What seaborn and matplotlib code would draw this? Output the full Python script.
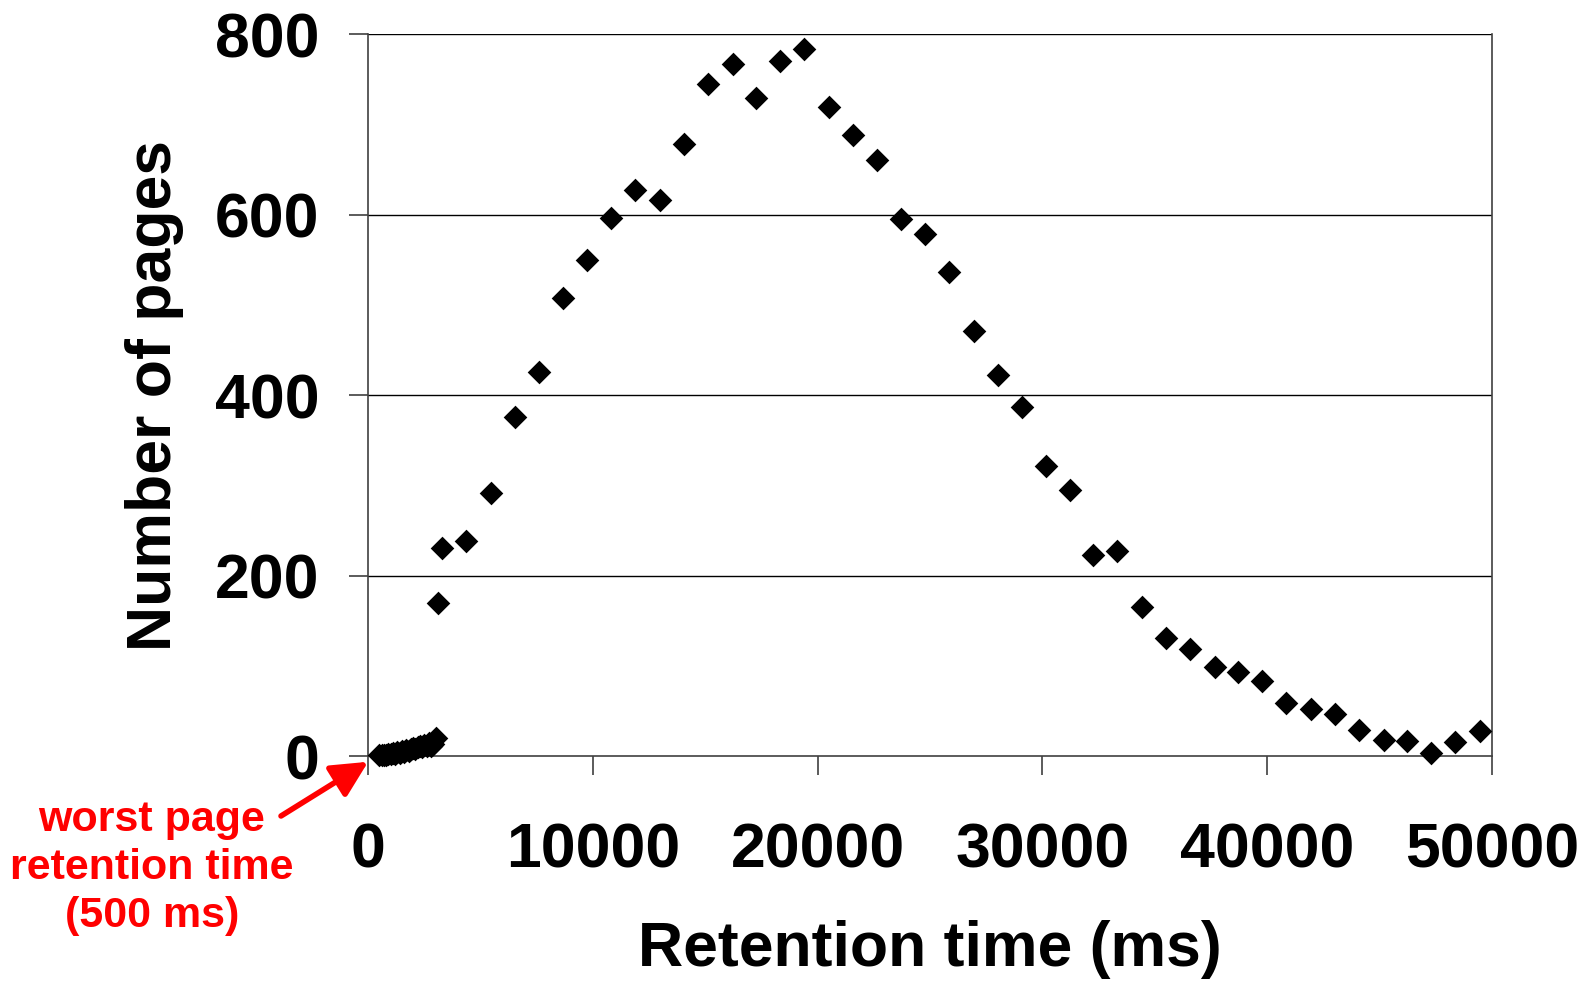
import seaborn as sns
import matplotlib.pyplot as plt
import pandas as pd

# small points close to the origin (500 ms .. 3000 ms)
near_x = [500, 600, 700, 800, 900, 1000, 1100, 1200, 1300, 1400, 1500, 1600, 1700,
          1800, 1900, 2000, 2100, 2200, 2300, 2400, 2500, 2600, 2700, 2800, 2900, 3000]
near_y = [1, 1, 2, 2, 3, 3, 4, 3, 5, 4, 6, 5, 7, 6, 8, 9, 8, 10, 11, 10, 13, 12,
          15, 12, 14, 20]

# main distribution
main_x = [3108, 3289, 4370, 5451, 6532, 7613, 8650, 9731, 10812, 11893, 12974,
          14056, 15137, 16218, 17254, 18335, 19416, 20497, 21579, 22660, 23696,
          24777, 25859, 26940, 28021, 29102, 30183, 31220, 32256, 33337, 34418,
          35499, 36580, 37662, 38698, 39779, 40860, 41942, 43023, 44104, 45185,
          46221, 47302, 48384, 49465]
main_y = [170, 231, 239, 292, 376, 426, 508, 550, 596, 628, 616, 679, 745, 767,
          730, 771, 784, 720, 689, 661, 595, 579, 537, 471, 423, 387, 322, 295,
          223, 228, 165, 131, 119, 99, 94, 83, 59, 53, 47, 29, 18, 17, 4, 16, 28]

x_ticks = [0, 10000, 20000, 30000, 40000, 50000]
y_ticks = [0, 200, 400, 600, 800]

df = pd.DataFrame({'t': near_x + main_x, 'n': near_y + main_y})

sns.set_style('white')
plt.rcParams['font.family'] = ['Liberation Sans', 'DejaVu Sans']
plt.rcParams['font.weight'] = 'bold'
plt.rcParams['text.color'] = 'black'
plt.rcParams['axes.labelcolor'] = 'black'
plt.rcParams['xtick.color'] = 'black'
plt.rcParams['ytick.color'] = 'black'

fig = plt.figure(figsize=(15.87, 9.81), dpi=100)
ax = fig.add_axes([0.232, 0.229, 0.708, 0.736])

sns.scatterplot(data=df, x='t', y='n', marker='D', color='black', s=145,
                linewidth=0, ax=ax, zorder=3, clip_on=False)

ax.set_xlim(0, 50000)
ax.set_ylim(0, 800)
ax.set_xticks(x_ticks)
ax.set_xticklabels([str(v) for v in x_ticks])
ax.set_yticks(y_ticks)
ax.set_yticklabels([str(v) for v in y_ticks])
for v in y_ticks[1:]:
    ax.axhline(v, color='black', lw=1, zorder=1)

for s in ['left', 'bottom', 'right']:
    ax.spines[s].set_visible(True)
    ax.spines[s].set_color('#404040')
    ax.spines[s].set_linewidth(1.2)
ax.spines['top'].set_visible(False)

ax.tick_params(axis='both', direction='out', length=14, width=1.2,
               color='#404040', labelcolor='black', labelsize=45)
ax.tick_params(axis='x', pad=33)
ax.tick_params(axis='y', pad=21, left=True)
ax.tick_params(axis='x', bottom=True)
for lab in ax.get_xticklabels() + ax.get_yticklabels():
    lab.set_fontweight('bold')

ax.set_xlabel('Retention time (ms)', fontsize=45, fontweight='bold', labelpad=28)
ax.set_ylabel('Number of pages', fontsize=45, fontweight='bold', labelpad=22)

fig.text(152, 113, 'worst page\nretention time\n(500 ms)', transform=None,
         color='red', fontsize=31, fontweight='bold', ha='center', va='center',
         linespacing=1.27)
ax.annotate('', xy=(0, -6), xycoords='data', xytext=(281, 165),
            textcoords='figure pixels', annotation_clip=False,
            arrowprops=dict(arrowstyle='-|>', color='red', lw=4,
                            mutation_scale=55, shrinkA=0, shrinkB=0))

fig.savefig('out.png', dpi=100)
